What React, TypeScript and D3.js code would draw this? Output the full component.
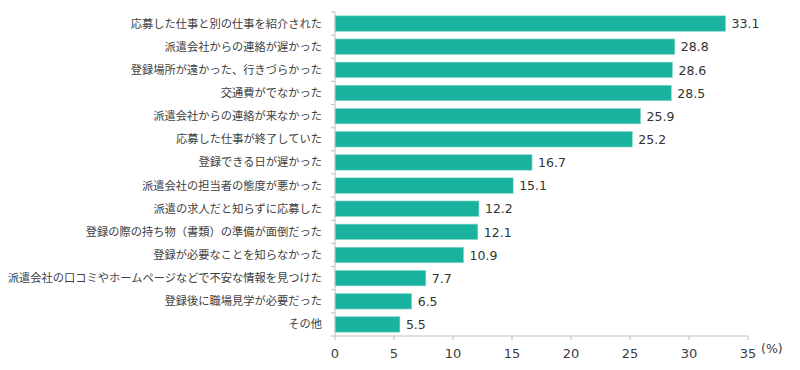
import React, { useRef, useEffect } from 'react';
import * as d3 from 'd3';

const categories = [
  '応募した仕事と別の仕事を紹介された',
  '派遣会社からの連絡が遅かった',
  '登録場所が遠かった、行きづらかった',
  '交通費がでなかった',
  '派遣会社からの連絡が来なかった',
  '応募した仕事が終了していた',
  '登録できる日が遅かった',
  '派遣会社の担当者の態度が悪かった',
  '派遣の求人だと知らずに応募した',
  '登録の際の持ち物（書類）の準備が面倒だった',
  '登録が必要なことを知らなかった',
  '派遣会社の口コミやホームページなどで不安な情報を見つけた',
  '登録後に職場見学が必要だった',
  'その他',
];
const values = [33.1, 28.8, 28.6, 28.5, 25.9, 25.2, 16.7, 15.1, 12.2, 12.1, 10.9, 7.7, 6.5, 5.5];
const xTicks = [0, 5, 10, 15, 20, 25, 30, 35];

const App = () => {
  const svgRef = useRef<SVGSVGElement | null>(null);

  useEffect(() => {
    const width = 800;
    const height = 370;
    const left = 335;
    const right = 748;
    const top = 12;
    const bottom = 336;

    const svg = d3.select(svgRef.current);
    svg.selectAll('*').remove();
    svg.attr('width', width).attr('height', height);

    const x = d3.scaleLinear().domain([0, 35]).range([left, right]);
    const y = d3.scaleBand().domain(categories).range([top, bottom]).paddingInner(0.33).paddingOuter(0.165);

    const jp = '"Noto Sans CJK JP", "Noto Sans", sans-serif';
    const num = '"DejaVu Sans", Verdana, sans-serif';
    const axisColor = '#bfbfbf';

    // bars
    svg
      .selectAll('rect.bar')
      .data(values)
      .join('rect')
      .attr('class', 'bar')
      .attr('x', x(0))
      .attr('y', (d, i) => y(categories[i])!)
      .attr('width', d => x(d) - x(0))
      .attr('height', y.bandwidth())
      .attr('fill', '#1ab39f')
      .attr('stroke', '#8fd9cc')
      .attr('stroke-width', 0.6);

    // value labels
    svg
      .selectAll('text.val')
      .data(values)
      .join('text')
      .attr('class', 'val')
      .attr('x', d => x(d) + 6)
      .attr('y', (d, i) => y(categories[i])! + y.bandwidth() / 2)
      .attr('dy', '0.38em')
      .attr('font-family', num)
      .attr('font-size', 12.5)
      .attr('fill', '#333')
      .text(d => d.toFixed(1));

    // y axis
    const step = (bottom - top) / categories.length;
    svg
      .append('line')
      .attr('x1', left)
      .attr('x2', left)
      .attr('y1', top)
      .attr('y2', bottom)
      .attr('stroke', axisColor);
    svg
      .selectAll('line.ytick')
      .data(d3.range(categories.length + 1))
      .join('line')
      .attr('class', 'ytick')
      .attr('x1', left - 4)
      .attr('x2', left)
      .attr('y1', i => top + i * step)
      .attr('y2', i => top + i * step)
      .attr('stroke', axisColor);
    svg
      .selectAll('text.cat')
      .data(categories)
      .join('text')
      .attr('class', 'cat')
      .attr('x', left - 13)
      .attr('y', d => y(d)! + y.bandwidth() / 2)
      .attr('dy', '0.35em')
      .attr('text-anchor', 'end')
      .attr('font-family', jp)
      .attr('font-size', 11.25)
      .attr('fill', '#404040')
      .text(d => d);

    // x axis
    svg
      .append('line')
      .attr('x1', left)
      .attr('x2', right)
      .attr('y1', bottom)
      .attr('y2', bottom)
      .attr('stroke', axisColor);
    svg
      .selectAll('line.xtick')
      .data(xTicks)
      .join('line')
      .attr('class', 'xtick')
      .attr('x1', d => x(d))
      .attr('x2', d => x(d))
      .attr('y1', bottom)
      .attr('y2', bottom + 4)
      .attr('stroke', axisColor);
    svg
      .selectAll('text.xlab')
      .data(xTicks)
      .join('text')
      .attr('class', 'xlab')
      .attr('x', d => x(d))
      .attr('y', bottom + 22)
      .attr('text-anchor', 'middle')
      .attr('font-family', num)
      .attr('font-size', 13)
      .attr('fill', '#404040')
      .text(d => d);
    svg
      .append('text')
      .attr('x', 761)
      .attr('y', bottom + 17)
      .attr('font-family', num)
      .attr('font-size', 12.5)
      .attr('fill', '#404040')
      .text('(%)');
  }, []);

  return <svg ref={svgRef} style={{ position: 'absolute', left: 0, top: 0 }}></svg>;
};

export default App;
